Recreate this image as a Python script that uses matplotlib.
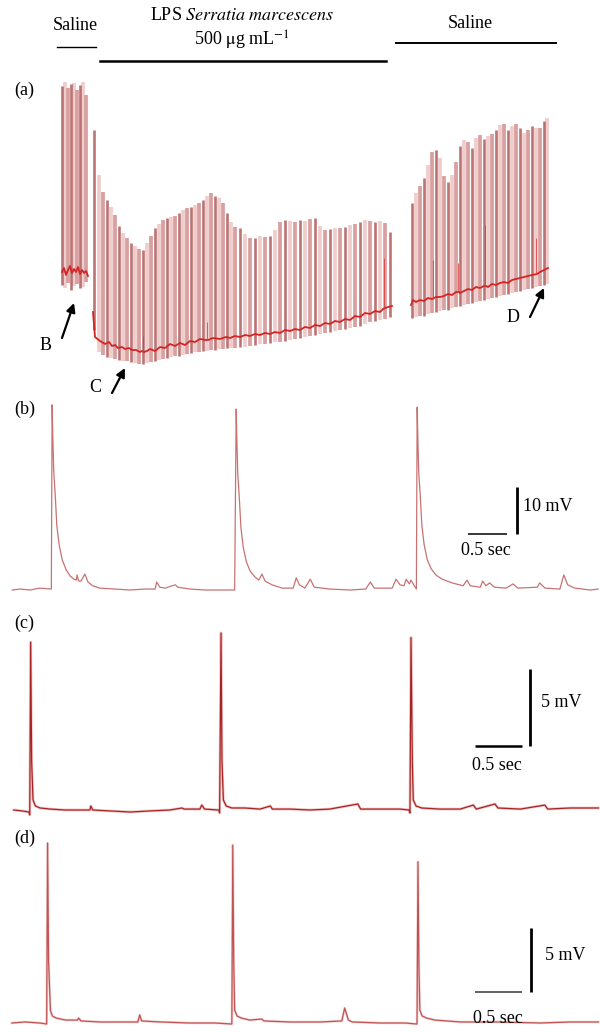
import numpy as np
import matplotlib.pyplot as plt
from matplotlib.lines import Line2D

plt.rcParams['font.family'] = ['Liberation Serif', 'DejaVu Serif']
plt.rcParams['mathtext.fontset'] = 'stix'

W, H = 600, 1032
fig = plt.figure(figsize=(W / 100, H / 100), dpi=100)


def box(x0, y0, x1, y1):
    # pixel box measured from the top-left corner -> figure rect
    return [x0 / W, 1 - y1 / H, (x1 - x0) / W, (y1 - y0) / H]


# ---------------- (a) long recording, a.u. ----------------
# saline before
sal1_t = [12, 15, 18, 21, 24, 27, 30, 33, 36]
sal1_peak = [294, 298, 292, 296, 297, 290, 295, 298, 285]
sal1_trough = [95, 92, 97, 90, 94, 96, 92, 93, 98]
sal1_base_t = [12, 14, 16, 18, 20, 22, 24, 26, 28, 30, 32, 34, 36, 38]
sal1_base_v = [108, 112, 105, 110, 114, 107, 111, 108, 113, 106, 110, 107, 109, 104]

# LPS
lps_t = [44, 49, 53, 57, 61, 65, 69, 73, 77, 81, 85, 89, 93, 97, 101, 105, 109, 113, 117, 121,
         125, 129, 133, 137, 141, 145, 149, 153, 157, 161, 165, 169, 173, 177, 181, 185, 190, 195, 200, 205,
         210, 215, 220, 225, 230, 235, 240, 245, 250, 255, 260, 265, 270, 275, 280, 285, 290, 295, 300, 305,
         310, 315, 320, 325, 330, 335, 340]
lps_peak = [250, 205, 188, 180, 173, 165, 154, 147, 142, 137, 134, 131, 130, 137, 144, 152, 156, 160, 162, 163,
            164, 167, 170, 172, 173, 175, 177, 180, 184, 187, 184, 182, 177, 167, 158, 153, 152, 146, 142, 142,
            144, 143, 144, 150, 158, 160, 159, 158, 160, 159, 161, 162, 154, 150, 151, 152, 152, 153, 155, 156,
            158, 160, 159, 158, 159, 157, 148]
lps_trough = [50, 28, 25, 23, 22, 21, 20, 19, 19, 18, 17, 16, 16, 17, 18, 19, 20, 21, 22, 23,
              24, 24, 25, 26, 27, 28, 28, 29, 29, 30, 30, 31, 31, 32, 32, 32, 33, 33, 34, 35,
              36, 36, 37, 38, 38, 39, 40, 41, 42, 43, 44, 45, 46, 47, 48, 49, 50, 51, 52, 53,
              54, 56, 58, 59, 60, 61, 63]
lps_base_t = [43, 45, 50, 55, 59, 62, 65, 68, 72, 75, 79, 82, 86, 90, 92, 94, 97, 100, 105,
              110, 115, 120, 125, 130, 135, 140, 145, 150, 156, 158, 163, 170, 176, 180, 185, 190, 195, 200,
              205, 210, 215, 220, 225, 230, 235, 240, 245, 250, 255, 260, 265, 270, 275, 280, 285, 290, 295, 300,
              305, 310, 315, 320, 325, 330, 333, 335, 342]
lps_base_v = [68, 43, 39, 36, 38, 34, 35, 32, 33, 31, 32, 30, 30, 28, 29, 28, 29, 31, 29,
              33, 32, 36, 34, 37, 35, 39, 38, 41, 40, 40, 42, 41, 43, 42, 44, 43, 45, 44,
              46, 45, 47, 46, 48, 47, 50, 49, 51, 50, 53, 52, 55, 54, 57, 56, 59, 58, 61, 60,
              64, 63, 67, 66, 69, 68, 71, 72, 74]

# saline wash
wash_t = [362, 366, 370, 374, 378, 382, 386, 390, 394, 398, 402, 406, 410, 414, 418, 422, 426, 430, 434, 438,
          442, 446, 450, 454, 458, 462, 466, 470, 474, 478, 482, 486, 490, 494, 497]
wash_peak = [177, 187, 194, 202, 215, 228, 230, 222, 204, 198, 205, 218, 234, 240, 238, 232, 242, 245, 241, 244,
             246, 250, 255, 256, 250, 254, 256, 252, 247, 250, 254, 252, 252, 259, 262]
wash_trough = [62, 63, 64, 64, 66, 67, 68, 69, 70, 70, 72, 73, 74, 75, 76, 77, 78, 79, 80, 81,
               82, 83, 84, 85, 86, 87, 88, 89, 90, 91, 92, 93, 94, 95, 96]
wash_base_t = [361, 363, 366, 370, 374, 378, 382, 384, 386, 390, 394, 398, 402, 406, 409, 410, 414, 418,
               422, 426, 430, 434, 436, 438, 442, 446, 450, 454, 458, 462, 466, 470, 474, 478, 482, 487,
               490, 494, 498]
wash_base_v = [75, 80, 78, 80, 79, 82, 81, 82, 83, 83, 84, 86, 85, 88, 88, 87, 89, 91,
               90, 93, 92, 94, 94, 93, 96, 95, 97, 98, 97, 100, 101, 102, 103, 104, 105, 106,
               108, 110, 112]

# isolated events riding on the baseline
ev_t = [93, 157, 334, 383, 408, 435, 486]
ev_base = [28, 40, 71, 81, 88, 94, 106]
ev_top = [44, 58, 122, 120, 117, 155, 142]

# ---------------- (b) s / mV ----------------
t_b = [0.03, 0.13, 0.26, 0.38, 0.53, 0.54, 0.55, 0.56, 0.58, 0.60,
       0.63, 0.67, 0.72, 0.77, 0.82, 0.85, 0.86, 0.88, 0.91, 0.96,
       1.00, 1.06, 1.15, 1.35, 1.54, 1.73, 1.86, 1.88, 1.92, 1.99,
       2.08, 2.12, 2.15, 2.31, 2.50, 2.69, 2.88, 2.90, 2.91, 2.92,
       2.94, 2.96, 2.99, 3.03, 3.08, 3.14, 3.19, 3.23, 3.27, 3.36,
       3.49, 3.63, 3.67, 3.71, 3.78, 3.85, 3.90, 4.10, 4.36, 4.56,
       4.62, 4.67, 4.90, 4.95, 5.00, 5.05, 5.08, 5.12, 5.14, 5.21,
       5.22, 5.23, 5.24, 5.26, 5.28, 5.31, 5.35, 5.40, 5.46, 5.54,
       5.67, 5.81, 5.86, 5.90, 6.03, 6.06, 6.10, 6.15, 6.21, 6.36,
       6.45, 6.51, 6.76, 6.79, 6.86, 7.05, 7.10, 7.15, 7.24, 7.44, 7.54]
v_b = [0, 0.2, 0, 0.4, 0.2, 39.4, 31.9, 25.5, 20.2, 13.8,
       9.6, 6.4, 4.3, 3.0, 2.3, 2.1, 3.2, 1.9, 1.9, 3.4,
       1.7, 0.9, 0.4, 0.2, 0, 0.2, 0.2, 1.7, 0.6, 0.4,
       0.9, 1.1, 0.6, 0.2, 0, 0, 0, 38.5, 31.1, 24.7,
       19.6, 13.4, 9.1, 6.0, 4.0, 2.8, 2.1, 3.4, 1.9, 1.1,
       0.4, 0.4, 2.6, 1.1, 0.4, 2.3, 0.6, 0.2, 0, 0.2,
       1.7, 0.4, 0.4, 2.3, 1.1, 0.9, 2.3, 1.3, 2.1, 0.2,
       38.9, 31.5, 25.1, 20.0, 13.8, 9.6, 6.4, 4.5, 3.2, 2.3,
       1.5, 0.9, 2.1, 0.9, 0.6, 1.9, 0.9, 1.5, 0.6, 0.4,
       1.3, 0.4, 0.6, 1.5, 0.4, 0.2, 3.2, 1.1, 0.4, 0, 0.2]

# ---------------- (c) s / mV ----------------
t_c = [0.04, 0.13, 0.20, 0.21, 0.22, 0.23, 0.245, 0.27, 0.32, 0.43,
       0.59, 0.74, 0.85, 0.86, 0.88, 1.06, 1.28, 1.49, 1.70, 1.83,
       1.85, 2.02, 2.04, 2.07, 2.22, 2.23, 2.245, 2.255, 2.27, 2.30,
       2.36, 2.50, 2.66, 2.77, 2.79, 2.98, 3.19, 3.40, 3.70, 3.73,
       3.94, 4.15, 4.245, 4.255, 4.266, 4.28, 4.29, 4.32, 4.38, 4.57,
       4.79, 4.93, 4.96, 5.16, 5.19, 5.43, 5.69, 5.72, 5.96, 6.26]
v_c = [0, -0.06, -0.13, -0.32, 10.9, 3.2, 0.65, 0.26, 0.13, 0.06,
       0, 0, 0, 0.26, 0, -0.06, -0.13, -0.06, 0, 0.13,
       0.06, 0.06, 0.32, 0.06, 0, -0.19, 11.5, 3.2, 0.65, 0.26,
       0.13, 0.13, 0.06, 0.26, 0.06, 0.06, 0, 0.06, 0.39, 0.06,
       0.06, 0.06, 0, -0.19, 11.2, 3.2, 0.65, 0.26, 0.13, 0.06,
       0.06, 0.32, 0.06, 0.39, 0.13, 0.06, 0.32, 0.06, 0.13, 0.13]

# ---------------- (d) s / mV ----------------
t_d = [0.02, 0.16, 0.32, 0.39, 0.40, 0.41, 0.43, 0.45, 0.49, 0.59,
       0.72, 0.73, 0.755, 0.96, 1.17, 1.36, 1.38, 1.40, 1.60, 1.91,
       2.18, 2.36, 2.37, 2.38, 2.39, 2.415, 2.46, 2.55, 2.68, 2.70,
       2.98, 3.30, 3.53, 3.56, 3.60, 3.64, 3.94, 4.20, 4.33, 4.34,
       4.35, 4.36, 4.385, 4.43, 4.52, 4.79, 5.21, 5.64, 5.96, 6.26]
v_d = [0, 0.08, 0, -0.08, 14.06, 4.9, 1.0, 0.55, 0.39, 0.23,
       0.23, 0.39, 0.16, 0.08, 0.08, 0.08, 0.63, 0.16, 0.08, 0,
       0, -0.08, 13.9, 4.9, 1.0, 0.55, 0.39, 0.23, 0.31, 0.16,
       0.08, 0.08, 0.16, 1.17, 0.23, 0.08, 0, 0, -0.08, 12.6,
       4.5, 1.0, 0.55, 0.39, 0.23, 0.08, 0.08, 0, 0.08, 0.08]

FS = 13

# ---------- header: treatment bars ----------
fig.text(75 / W, 1 - 26 / H, 'Saline', ha='center', va='center', fontsize=FS)
fig.text(242 / W, 1 - 16 / H, r'LPS $\mathit{Serratia\ marcescens}$', ha='center', va='center', fontsize=FS)
fig.text(242 / W, 1 - 40 / H, r'500 $\mathrm{\mu}$g mL$^{-1}$', ha='center', va='center', fontsize=FS)
fig.text(470 / W, 1 - 24 / H, 'Saline', ha='center', va='center', fontsize=FS)
fig.add_artist(Line2D([57 / W, 96 / W], [1 - 47 / H] * 2, color='k', lw=1.0))
fig.add_artist(Line2D([100 / W, 386 / W], [1 - 61 / H] * 2, color='k', lw=1.8))
fig.add_artist(Line2D([396 / W, 556 / W], [1 - 43 / H] * 2, color='k', lw=1.4))

for lab, y in [('(a)', 90), ('(b)', 409), ('(c)', 623), ('(d)', 838)]:
    fig.text(14 / W, 1 - y / H, lab, ha='left', va='center', fontsize=FS)

# ---------- (a) ----------
ax = fig.add_axes(box(50, 70, 560, 370))
ax.set_xlim(0, 510)
ax.set_ylim(10, 310)
ax.axis('off')

shades = ['#b46464', '#f0cdcd', '#d9a0a0']


def burst(t, peak, trough):
    for i, (ti, p, tr) in enumerate(zip(t, peak, trough)):
        k = i % 3
        if k == 0:
            ax.vlines(ti, tr, p, color=shades[0], lw=1.9, alpha=0.9, zorder=2)
        else:
            ax.vlines(ti, tr, p, color=shades[k], lw=2.7, zorder=1)


burst(sal1_t, sal1_peak, sal1_trough)
burst(lps_t, lps_peak, lps_trough)
burst(wash_t, wash_peak, wash_trough)

red = '#d42424'
ax.plot(sal1_base_t, sal1_base_v, color=red, lw=1.3, zorder=3)
ax.plot(lps_base_t, lps_base_v, color=red, lw=1.3, zorder=3)
ax.plot(wash_base_t, wash_base_v, color=red, lw=1.3, zorder=3)
ax.vlines(ev_t, ev_base, ev_top, color='#dd3838', lw=0.7, alpha=0.8, zorder=3)

arrow = dict(arrowstyle='-|>', color='k', lw=1.6, mutation_scale=13, shrinkA=0, shrinkB=0)
ax.annotate('', xy=(24, 77), xytext=(12, 42), arrowprops=arrow)
ax.text(-4, 35, 'B', ha='center', va='center', fontsize=FS)
ax.annotate('', xy=(75, 12), xytext=(62, -13), arrowprops=arrow, annotation_clip=False)
ax.text(45, -8, 'C', ha='center', va='center', fontsize=FS)
ax.annotate('', xy=(494, 92), xytext=(480, 63), arrowprops=arrow)
ax.text(463, 62, 'D', ha='center', va='center', fontsize=FS)


def scalebar(ax, x0, y0, dx, dy, xlab, ylab, hcol='k', hlw=1.2, xt=None, yt=None):
    ax.plot([x0, x0 + dx], [y0, y0], color=hcol, lw=hlw, solid_capstyle='butt')
    ax.plot([x0 + dx + xt[2], x0 + dx + xt[2]], [y0, y0 + dy], color='k', lw=2.0, solid_capstyle='butt')
    ax.text(yt[0], yt[1], ylab, ha='left', va='center', fontsize=FS)
    ax.text(xt[0], xt[1], xlab, ha='left', va='center', fontsize=FS)


# ---------- (b) ----------
ax = fig.add_axes(box(10, 395, 600, 600))
ax.set_xlim(0, 590 / 78)
ax.set_ylim(-10 / 4.7, 195 / 4.7)
ax.axis('off')
ax.plot(t_b, v_b, color='#c97272', lw=0.9)
scalebar(ax, 5.87, 11.9, 0.5, 10, '0.5 sec', '10 mV', hlw=1.1,
         xt=(5.78, 8.3, 0.13), yt=(6.58, 17.7))

# ---------- (c) ----------
ax = fig.add_axes(box(10, 615, 600, 820))
ax.set_xlim(0, 590 / 94)
ax.set_ylim(-10 / 15.4, 195 / 15.4)
ax.axis('off')
ax.plot(t_c, v_c, color='#f0c4c4', lw=2.0, zorder=1)
ax.plot(t_c, v_c, color='#a82424', lw=0.9, zorder=2)
scalebar(ax, 4.95, 4.16, 0.5, 5, '0.5 sec', '5 mV', hlw=1.8,
         xt=(4.91, 2.92, 0.08), yt=(5.65, 6.95))

# ---------- (d) ----------
ax = fig.add_axes(box(10, 830, 600, 1032))
ax.set_xlim(0, 590 / 94)
ax.set_ylim(-9 / 12.8, 193 / 12.8)
ax.axis('off')
ax.plot(t_d, v_d, color='#f4d2d2', lw=1.8, zorder=1)
ax.plot(t_d, v_d, color='#c05454', lw=0.9, zorder=2)
scalebar(ax, 4.95, 2.42, 0.5, 5, '0.5 sec', '5 mV', hcol='#555555', hlw=1.3,
         xt=(4.93, 0.39, 0.09), yt=(5.69, 5.31))

fig.savefig('out.png', dpi=100)
